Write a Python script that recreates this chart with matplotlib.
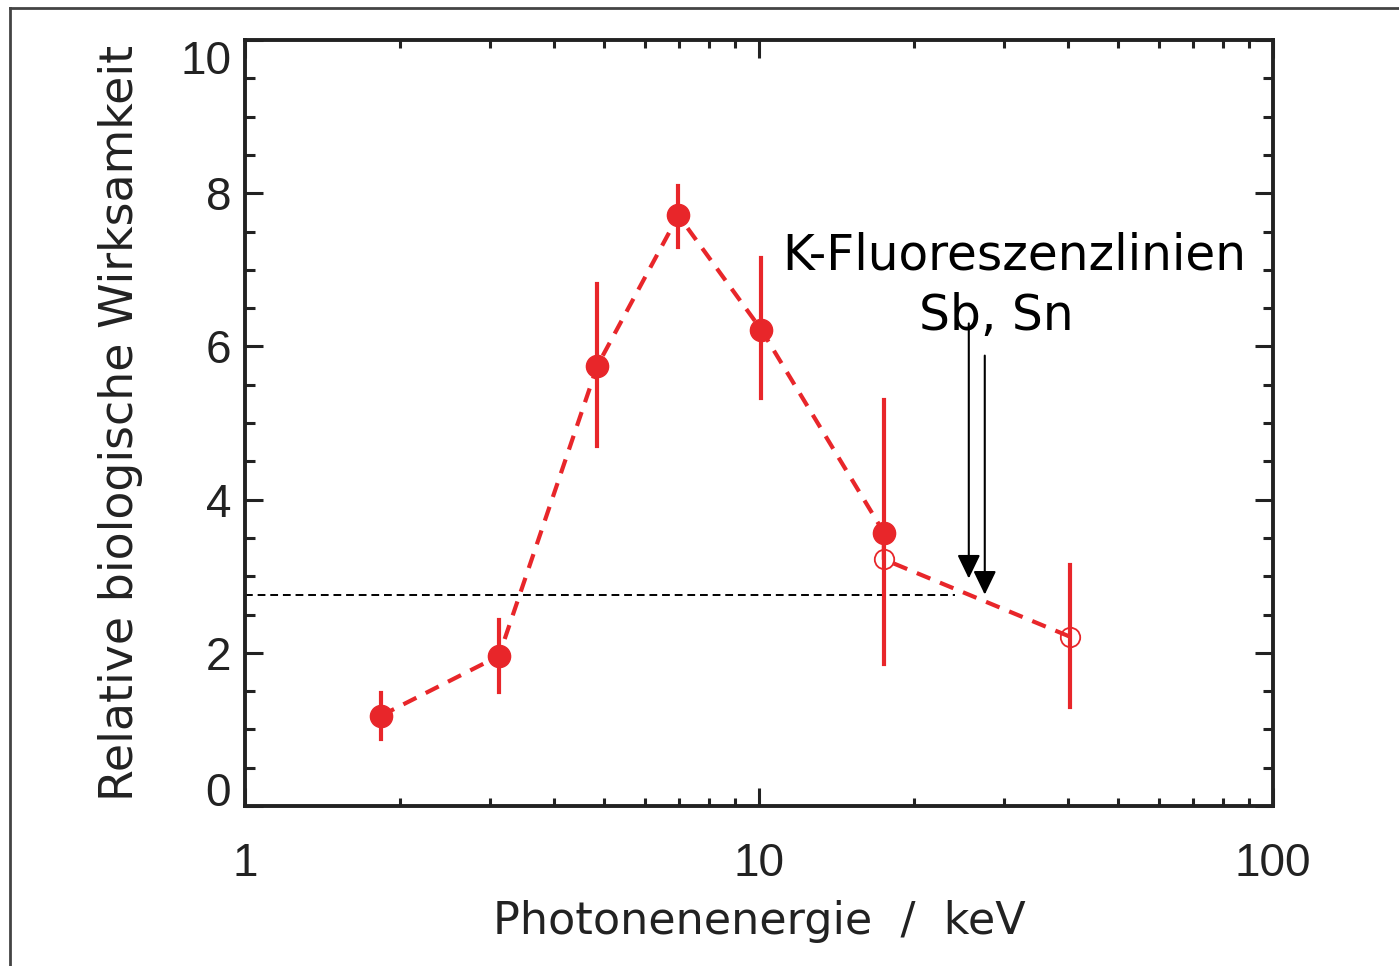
import numpy as np
import matplotlib
matplotlib.use("Agg")
import matplotlib.pyplot as plt
from matplotlib.ticker import FixedLocator, NullFormatter, MultipleLocator
from matplotlib.lines import Line2D

# measured points (keV, relative effectiveness)
energy = [1.84, 3.12, 4.85, 6.97, 10.1, 17.5, 17.5, 40.3]
rbe = [1.18, 1.96, 5.75, 7.71, 6.22, 3.57, 3.22, 2.21]
err_lo = [0.30, 0.47, 1.05, 0.41, 0.90, 1.71, 0.0, 0.92]
err_hi = [0.30, 0.47, 1.07, 0.39, 0.93, 1.73, 0.0, 0.93]
filled = [True, True, True, True, True, True, False, False]

ref_level = 2.75
ref_xmax = 24.1
k_lines = [25.6, 27.5]        # Sn, Sb
k_tip = [2.97, 2.76]
k_top = [6.3, 5.88]

yticks = [0, 2, 4, 6, 8, 10]

red = '#e8262a'

plt.rcParams['font.family'] = ['Liberation Sans', 'DejaVu Sans']

fig = plt.figure(figsize=(13.99, 9.66), dpi=100)
ax = fig.add_axes([0.1751, 0.1656, 0.7348, 0.7930])

ax.plot(energy, rbe, color=red, lw=3, ls=(0, (3.5, 2.5)), zorder=2)
for x, y, lo, hi, f in zip(energy, rbe, err_lo, err_hi, filled):
    if lo > 0 or hi > 0:
        ax.plot([x, x], [y - lo, y + hi], color=red, lw=3, zorder=2)
    if f:
        ax.plot(x, y, 'o', ms=16, color=red, mec=red, zorder=3)
    else:
        ax.plot(x, y, 'o', ms=14, mfc='none', mec=red, mew=1.3, zorder=3)

ax.plot([1, ref_xmax], [ref_level, ref_level], color='black', lw=1.4,
        ls=(0, (4, 2.5)), zorder=1)

for x, tip, top in zip(k_lines, k_tip, k_top):
    ax.annotate('', xy=(x, tip), xytext=(x, top),
                arrowprops=dict(arrowstyle='-|>,head_length=1.45,head_width=0.7',
                                color='black', lw=1.5, shrinkA=0, shrinkB=0))

ax.text(0.7248, 0.7205, 'K-Fluoreszenzlinien', transform=fig.transFigure,
        ha='center', va='baseline', fontsize=35, family='DejaVu Sans')
ax.text(0.7120, 0.6584, 'Sb, Sn', transform=fig.transFigure,
        ha='center', va='baseline', fontsize=35, family='DejaVu Sans')

ax.set_xscale('log')
ax.set_xlim(1, 100)
ax.set_ylim(0, 10)
ax.xaxis.set_major_locator(FixedLocator([1, 10, 100]))
ax.xaxis.set_minor_locator(FixedLocator([a * b for b in (1, 10) for a in range(2, 10)]))
ax.xaxis.set_minor_formatter(NullFormatter())
ax.set_xticklabels(['1', '10', '100'])
ax.yaxis.set_major_locator(FixedLocator(yticks))
ax.yaxis.set_minor_locator(MultipleLocator(0.5))

ax.tick_params(which='both', direction='in', top=True, right=True, colors='#222222',
               width=2.2)
ax.tick_params(axis='y', which='major', length=13, labelsize=33, pad=10)
ax.tick_params(axis='y', which='minor', length=7)
ax.tick_params(axis='x', which='major', length=13, labelsize=33, pad=26)
ax.tick_params(axis='x', which='minor', length=5.5)
for s in ax.spines.values():
    s.set_linewidth(2.8)
    s.set_color('#222222')

ax.set_xlabel('Photonenenergie  /  keV', fontsize=32, color='#222222', labelpad=10,
              family='DejaVu Sans')
ax.set_ylabel('Relative biologische Wirksamkeit', fontsize=33, color='#222222',
              labelpad=27, family='DejaVu Sans')

# end labels of the y axis sit slightly inside the axis range
fig.canvas.draw()
yt = ax.yaxis.get_major_ticks()
yt[0].label1.set_verticalalignment('baseline')
yt[len(yticks) - 1].label1.set_verticalalignment('top')

# outer frame (left and top edge only visible)
fig.add_artist(Line2D([0.0068, 0.0068], [0.0, 0.9917], transform=fig.transFigure,
                      color='#444444', lw=2))
fig.add_artist(Line2D([0.0068, 1.0], [0.9917, 0.9917], transform=fig.transFigure,
                      color='#444444', lw=2))

fig.savefig('out.png', dpi=100)
